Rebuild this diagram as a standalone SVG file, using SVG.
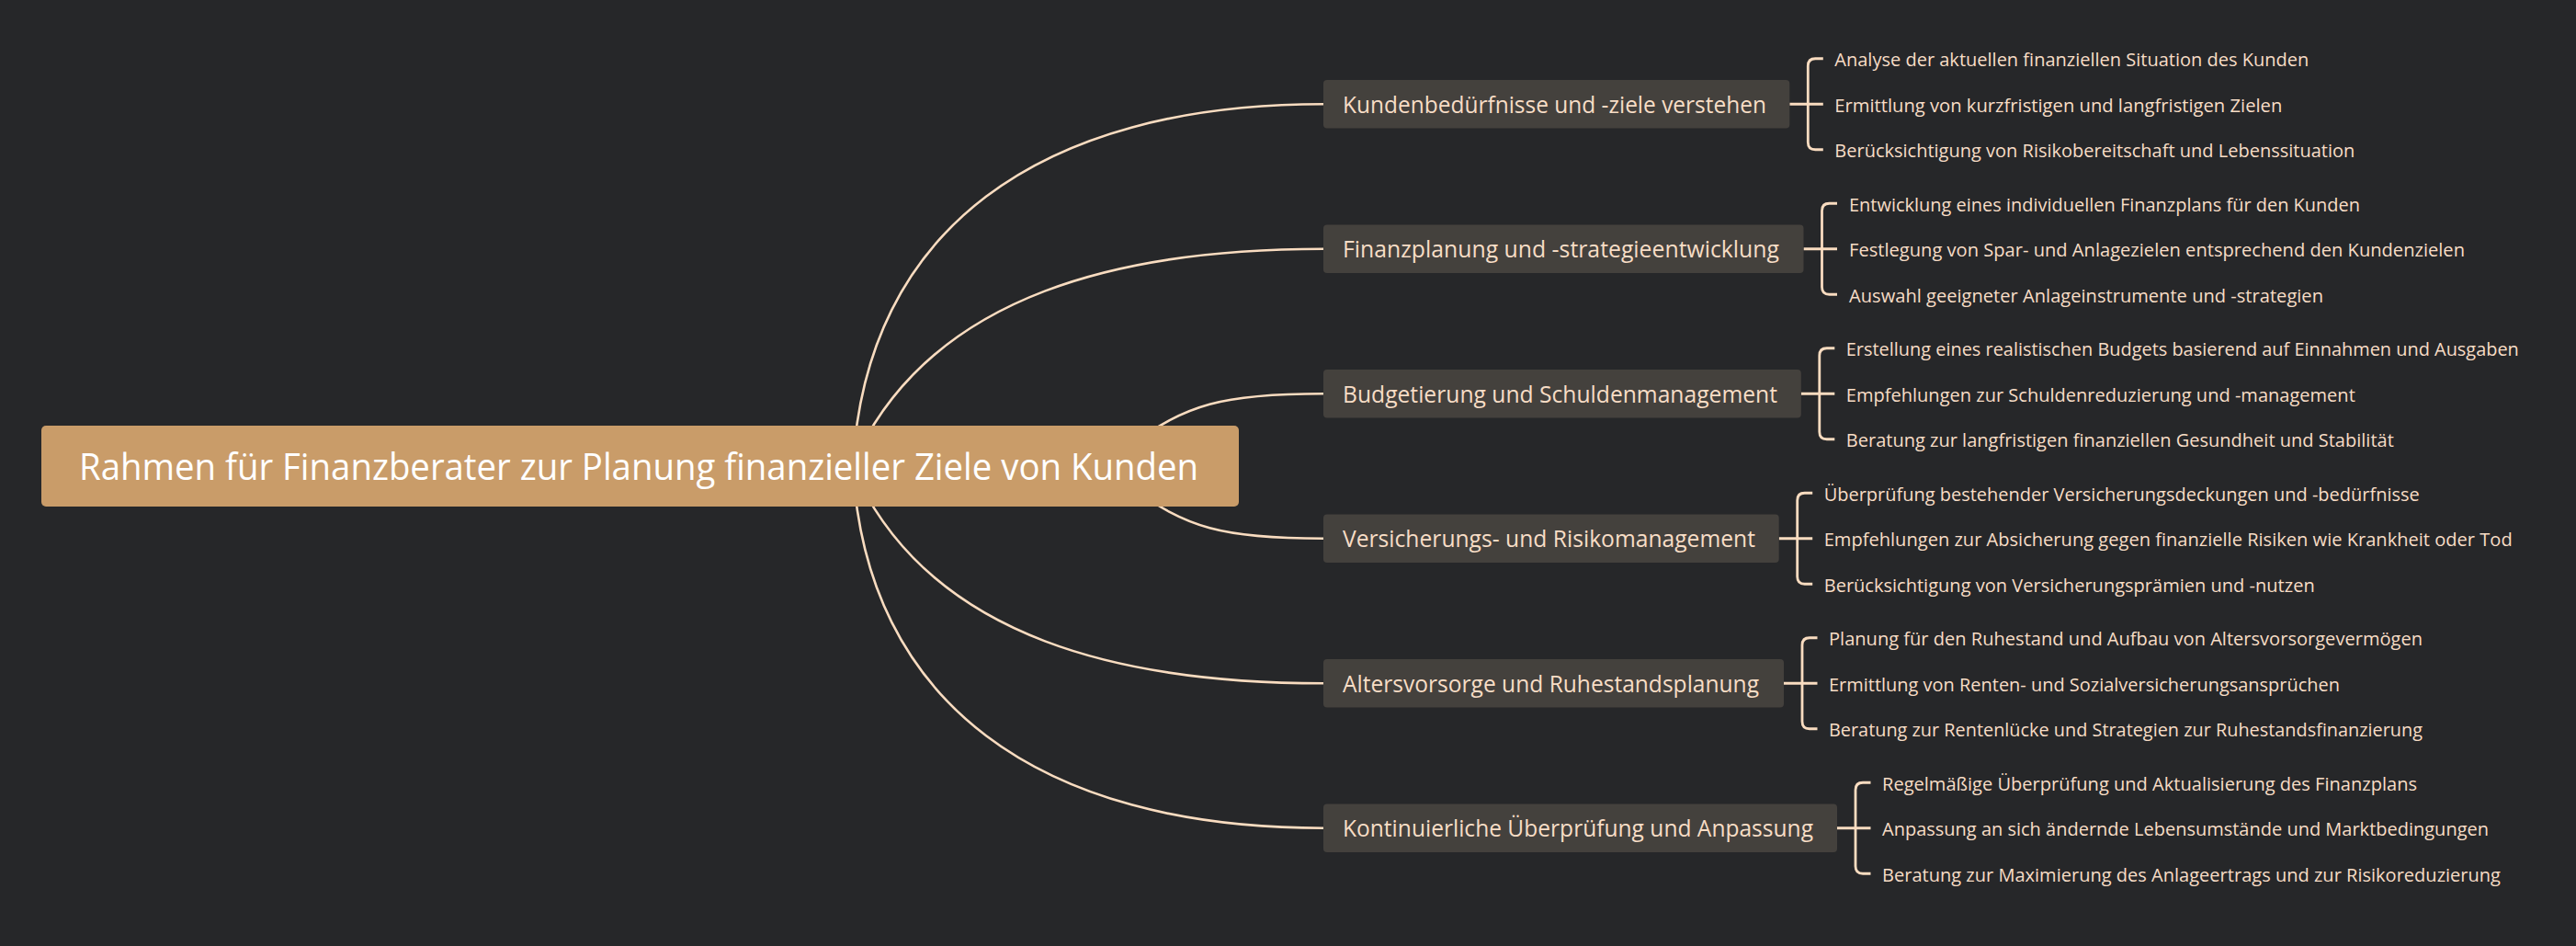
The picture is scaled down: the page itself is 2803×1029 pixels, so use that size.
<svg xmlns="http://www.w3.org/2000/svg" width="2803" height="1029" viewBox="0 0 2803 1029">
<style>
.bg{fill:#262729}
.link{fill:none;stroke:#f9dcc0;stroke-width:2.6;stroke-linecap:round}
.brk{fill:none;stroke:#f9dcc0;stroke-width:2.8}
.root rect{fill:#c99c69}
.root text{fill:#ffffff;font-family:"Open Sans","Noto Sans",sans-serif;font-size:41px}
.br rect{fill:#44413d}
.br text{fill:#f7ddc6;font-family:"Open Sans","Noto Sans",sans-serif;font-size:25px}
.leaf{fill:#f7ddc6;font-family:"Open Sans","Noto Sans",sans-serif;font-size:20px}
</style>
<rect class="bg" x="0" y="0" width="2803" height="1029"/>
<g id="connectors">
<path class="link" d="M928 507 C942 250 1130 113.25 1440 113.25"/>
<path class="link" d="M935 490 C1020 320 1220 270.75 1440 270.75"/>
<path class="link" d="M1230 485 C1290 440 1330 428.25 1440 428.25"/>
<path class="link" d="M1230 529 C1290 574 1330 585.75 1440 585.75"/>
<path class="link" d="M935 524 C1020 694 1220 743.25 1440 743.25"/>
<path class="link" d="M928 507 C942 764 1130 900.75 1440 900.75"/>
<path class="brk" d="M1947.3 113.25 H1983.8 M1983.8 63.75 H1975.3 Q1967.3 63.75 1967.3 71.75 V154.75 Q1967.3 162.75 1975.3 162.75 H1983.8"/>
<path class="brk" d="M1962.5 270.75 H1999 M1999 221.25 H1990.5 Q1982.5 221.25 1982.5 229.25 V312.25 Q1982.5 320.25 1990.5 320.25 H1999"/>
<path class="brk" d="M1959.8 428.25 H1996.3 M1996.3 378.75 H1987.8 Q1979.8 378.75 1979.8 386.75 V469.75 Q1979.8 477.75 1987.8 477.75 H1996.3"/>
<path class="brk" d="M1935.7 585.75 H1972.2 M1972.2 536.25 H1963.7 Q1955.7 536.25 1955.7 544.25 V627.25 Q1955.7 635.25 1963.7 635.25 H1972.2"/>
<path class="brk" d="M1941 743.25 H1977.5 M1977.5 693.75 H1969 Q1961 693.75 1961 701.75 V784.75 Q1961 792.75 1969 792.75 H1977.5"/>
<path class="brk" d="M1999 900.75 H2035.5 M2035.5 851.25 H2027 Q2019 851.25 2019 859.25 V942.25 Q2019 950.25 2027 950.25 H2035.5"/>
</g>
<g id="root" class="root">
<rect x="45" y="463" width="1303" height="88" rx="5"/>
<text x="86" y="521.7" textLength="1218" lengthAdjust="spacingAndGlyphs">Rahmen für Finanzberater zur Planung finanzieller Ziele von Kunden</text>
</g>
<g id="n1" class="br">
<rect x="1440" y="87" width="507.3" height="52.5" rx="4"/>
<text x="1461" y="122.75" textLength="461" lengthAdjust="spacingAndGlyphs">Kundenbedürfnisse und -ziele verstehen</text>
</g>
<g id="n1-leaves">
<text class="leaf" x="1996.3" y="72.25" textLength="516" lengthAdjust="spacingAndGlyphs">Analyse der aktuellen finanziellen Situation des Kunden</text>
<text class="leaf" x="1996.3" y="121.75" textLength="487" lengthAdjust="spacingAndGlyphs">Ermittlung von kurzfristigen und langfristigen Zielen</text>
<text class="leaf" x="1996.3" y="171.25" textLength="566" lengthAdjust="spacingAndGlyphs">Berücksichtigung von Risikobereitschaft und Lebenssituation</text>
</g>
<g id="n2" class="br">
<rect x="1440" y="244.5" width="522.5" height="52.5" rx="4"/>
<text x="1461" y="280.25" textLength="475" lengthAdjust="spacingAndGlyphs">Finanzplanung und -strategieentwicklung</text>
</g>
<g id="n2-leaves">
<text class="leaf" x="2012" y="229.75" textLength="556" lengthAdjust="spacingAndGlyphs">Entwicklung eines individuellen Finanzplans für den Kunden</text>
<text class="leaf" x="2012" y="279.25" textLength="670" lengthAdjust="spacingAndGlyphs">Festlegung von Spar- und Anlagezielen entsprechend den Kundenzielen</text>
<text class="leaf" x="2012" y="328.75" textLength="516" lengthAdjust="spacingAndGlyphs">Auswahl geeigneter Anlageinstrumente und -strategien</text>
</g>
<g id="n3" class="br">
<rect x="1440" y="402" width="519.8" height="52.5" rx="4"/>
<text x="1461" y="437.75" textLength="473" lengthAdjust="spacingAndGlyphs">Budgetierung und Schuldenmanagement</text>
</g>
<g id="n3-leaves">
<text class="leaf" x="2008.8" y="387.25" textLength="732" lengthAdjust="spacingAndGlyphs">Erstellung eines realistischen Budgets basierend auf Einnahmen und Ausgaben</text>
<text class="leaf" x="2008.8" y="436.75" textLength="554" lengthAdjust="spacingAndGlyphs">Empfehlungen zur Schuldenreduzierung und -management</text>
<text class="leaf" x="2008.8" y="486.25" textLength="596" lengthAdjust="spacingAndGlyphs">Beratung zur langfristigen finanziellen Gesundheit und Stabilität</text>
</g>
<g id="n4" class="br">
<rect x="1440" y="559.5" width="495.7" height="52.5" rx="4"/>
<text x="1461" y="595.25" textLength="449" lengthAdjust="spacingAndGlyphs">Versicherungs- und Risikomanagement</text>
</g>
<g id="n4-leaves">
<text class="leaf" x="1984.7" y="544.75" textLength="648" lengthAdjust="spacingAndGlyphs">Überprüfung bestehender Versicherungsdeckungen und -bedürfnisse</text>
<text class="leaf" x="1984.7" y="594.25" textLength="749" lengthAdjust="spacingAndGlyphs">Empfehlungen zur Absicherung gegen finanzielle Risiken wie Krankheit oder Tod</text>
<text class="leaf" x="1984.7" y="643.75" textLength="534" lengthAdjust="spacingAndGlyphs">Berücksichtigung von Versicherungsprämien und -nutzen</text>
</g>
<g id="n5" class="br">
<rect x="1440" y="717" width="501" height="52.5" rx="4"/>
<text x="1461" y="752.75" textLength="453" lengthAdjust="spacingAndGlyphs">Altersvorsorge und Ruhestandsplanung</text>
</g>
<g id="n5-leaves">
<text class="leaf" x="1990" y="702.25" textLength="646" lengthAdjust="spacingAndGlyphs">Planung für den Ruhestand und Aufbau von Altersvorsorgevermögen</text>
<text class="leaf" x="1990" y="751.75" textLength="556" lengthAdjust="spacingAndGlyphs">Ermittlung von Renten- und Sozialversicherungsansprüchen</text>
<text class="leaf" x="1990" y="801.25" textLength="646" lengthAdjust="spacingAndGlyphs">Beratung zur Rentenlücke und Strategien zur Ruhestandsfinanzierung</text>
</g>
<g id="n6" class="br">
<rect x="1440" y="874.5" width="559" height="52.5" rx="4"/>
<text x="1461" y="910.25" textLength="512" lengthAdjust="spacingAndGlyphs">Kontinuierliche Überprüfung und Anpassung</text>
</g>
<g id="n6-leaves">
<text class="leaf" x="2048" y="859.75" textLength="582" lengthAdjust="spacingAndGlyphs">Regelmäßige Überprüfung und Aktualisierung des Finanzplans</text>
<text class="leaf" x="2048" y="909.25" textLength="660" lengthAdjust="spacingAndGlyphs">Anpassung an sich ändernde Lebensumstände und Marktbedingungen</text>
<text class="leaf" x="2048" y="958.75" textLength="673" lengthAdjust="spacingAndGlyphs">Beratung zur Maximierung des Anlageertrags und zur Risikoreduzierung</text>
</g>
</svg>
